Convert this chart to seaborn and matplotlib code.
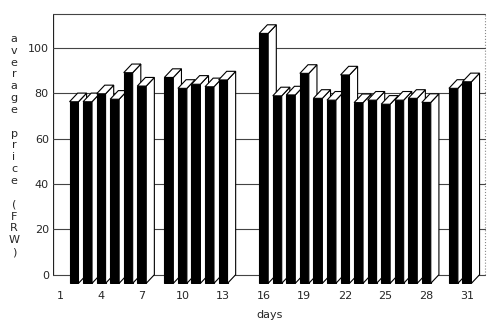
import numpy as np
import pandas as pd
import matplotlib
matplotlib.use("Agg")
import matplotlib.pyplot as plt
import seaborn as sns
from matplotlib.patches import Polygon

# ---- data ----
days = [2, 3, 4, 5, 6, 7, 9, 10, 11, 12, 13, 16, 17, 18, 19, 20, 21, 22, 23, 24,
        25, 26, 27, 28, 30, 31]
prices = [80.0, 80.0, 83.5, 81.1, 92.8, 86.9, 90.7, 85.9, 87.7, 86.6, 89.6, 110.1,
          82.6, 83.0, 92.5, 81.5, 80.7, 91.8, 79.6, 80.7, 78.9, 80.7, 81.5, 79.7,
          85.9, 88.8]
xtick_days = [1, 4, 7, 10, 13, 16, 19, 22, 25, 28, 31]
ytick_vals = [0, 20, 40, 60, 80, 100]
ylabel_text = "average price (FRW)"
xlabel_text = "days"

# ---- style / geometry of the pseudo-3D look ----
DX = 0.6      # depth offset in days
DY = 3.8      # depth offset in value units
XL, XR = 0.45, 32.33   # back wall left / right
WALL_TOP = 115

sns.set_style("white")
plt.rcParams["font.family"] = ["DejaVu Sans"]

fig = plt.figure(figsize=(5, 3.3), dpi=100)
ax = fig.add_axes([0.106, 0.1394, 0.874, 0.8364])

df = pd.DataFrame({"day": days, "price": prices})
sns.barplot(data=df, x="day", y="price", native_scale=True, color="black",
            saturation=1, width=0.66, edgecolor="black", linewidth=0.8,
            errorbar=None, ax=ax)

bars = sorted(ax.patches, key=lambda p: p.get_x())
for i, b in enumerate(bars):
    z = 3 + i
    b.set_zorder(z)
    x0, w, h = b.get_x(), b.get_width(), b.get_height()
    x1 = x0 + w
    side = Polygon([(x1, 0), (x1 + DX, DY), (x1 + DX, h + DY), (x1, h)],
                   closed=True, fc="white", ec="black", lw=0.8, zorder=z)
    top = Polygon([(x0, h), (x1, h), (x1 + DX, h + DY), (x0 + DX, h + DY)],
                  closed=True, fc="white", ec="black", lw=0.8, zorder=z)
    ax.add_patch(side)
    ax.add_patch(top)

# back wall
YT = WALL_TOP + DY
ax.plot([XL, XL], [DY, YT], color="#222222", lw=0.9, zorder=1)
ax.plot([XL, XR], [YT, YT], color="#444444", lw=0.8, zorder=1)
ax.plot([XR, XR], [DY, YT], color="#888888", lw=0.8, ls=":", zorder=1)
for k in ytick_vals:
    ax.plot([XL, XR], [k + DY, k + DY], color="#444444", lw=0.8, zorder=1)

ax.set_xlim(XL, 32.70)
ax.set_ylim(-0.3, 121.3)
ax.set_xticks(xtick_days)
ax.set_xticklabels([str(d) for d in xtick_days], fontsize=8)
ax.set_yticks([k + DY for k in ytick_vals])
ax.set_yticklabels([str(k) for k in ytick_vals], fontsize=8)
ax.tick_params(axis="both", length=0)
ax.tick_params(axis="x", pad=5)
ax.tick_params(axis="y", pad=3)
for s in ax.spines.values():
    s.set_visible(False)

ax.set_ylabel("")
ax.set_xlabel(xlabel_text, fontsize=8)
ax.xaxis.set_label_coords((270 - 53) / 437, (284 - 315) / 276)
ax.xaxis.label.set_va("center")

chars = []
for j, word in enumerate(ylabel_text.split(" ")):
    if j:
        chars.append("")
    chars.extend(list(word))
fig.text(0.028, 1 - 145.5 / 330, "\n".join(chars), ha="center", va="center",
         fontsize=8, linespacing=1.23)

fig.savefig("out.png", dpi=100)
